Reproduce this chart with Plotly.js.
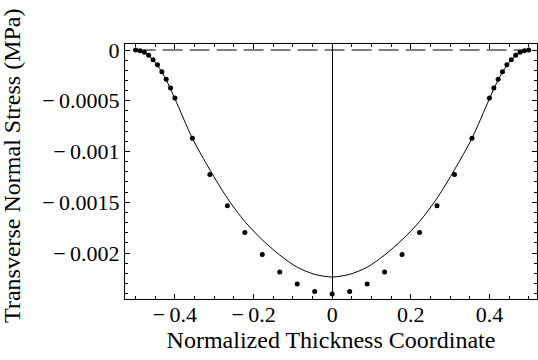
<!DOCTYPE html>
<html>
<head>
<meta charset="utf-8">
<script src="https://cdn.plot.ly/plotly-3.0.1.min.js"></script>
<style>html,body{margin:0;padding:0;background:#fff;}#chart{width:538px;height:360px;}</style>
</head>
<body>
<div id="chart"></div>
<script>
// Sampled stress (dots)
const dotX = [-0.5,-0.4889,-0.4778,-0.4667,-0.4556,-0.4444,-0.4333,-0.4222,-0.4111,-0.4,-0.3556,-0.3111,-0.2667,-0.2222,-0.1778,-0.1333,-0.0889,-0.0444,0,0.0444,0.0889,0.1333,0.1778,0.2222,0.2667,0.3111,0.3556,0.4,0.4111,0.4222,0.4333,0.4444,0.4556,0.4667,0.4778,0.4889,0.5];
const dotY = [0,-0.000007,-0.000023,-0.000052,-0.000095,-0.000145,-0.000214,-0.000289,-0.000375,-0.000473,-0.00087,-0.001226,-0.001535,-0.001798,-0.002015,-0.002186,-0.002305,-0.00238,-0.002403,-0.00238,-0.002305,-0.002186,-0.002015,-0.001798,-0.001535,-0.001226,-0.00087,-0.000473,-0.000375,-0.000289,-0.000214,-0.000145,-0.000095,-0.000052,-0.000023,-0.000007,0];
// Analytical solution (solid curve)
const curveX = [-0.5,-0.4889,-0.4667,-0.4444,-0.4222,-0.4,-0.3556,-0.3111,-0.2667,-0.2222,-0.1778,-0.1333,-0.0889,-0.0444,0,0.0444,0.0889,0.1333,0.1778,0.2222,0.2667,0.3111,0.3556,0.4,0.4222,0.4444,0.4667,0.4889,0.5];
const curveY = [0,-0.000007,-0.000052,-0.000150,-0.000295,-0.00048,-0.00087,-0.00118,-0.00146,-0.00169,-0.00187,-0.00202,-0.00214,-0.00221,-0.002236,-0.00221,-0.00214,-0.00202,-0.00187,-0.00169,-0.00146,-0.00118,-0.00087,-0.00048,-0.000295,-0.000150,-0.000052,-0.000007,0];
// Reference zero line (dashed)
const zeroX = [-0.5, 0.5];
const zeroY = [0, 0];

// Tick labels
const xTickVals = [-0.4, -0.2, 0, 0.2, 0.4];
const xTickText = ['\u2212\u20090.4', '\u2212\u20090.2', '0', '0.2', '0.4'];
const yTickVals = [0, -0.0005, -0.001, -0.0015, -0.002];
const yTickText = ['0', '\u2212\u20090.0005', '\u2212\u20090.001', '\u2212\u20090.0015', '\u2212\u20090.002'];

const xTitle = 'Normalized Thickness Coordinate';
const yTitle = 'Transverse Normal Stress (MPa)';

const font = '"Liberation Serif", "Times New Roman", serif';

const traces = [
  {x: zeroX, y: zeroY, mode: 'lines', line: {color: '#000', width: 1, dash: '20px,7px'}, hoverinfo: 'skip'},
  {x: curveX, y: curveY, mode: 'lines', line: {color: '#000', width: 1, shape: 'spline', smoothing: 0.8}},
  {x: dotX, y: dotY, mode: 'markers', marker: {color: '#000', size: 5}}
];

const layout = {
  width: 538, height: 360,
  margin: {l: 125, r: 1, t: 44, b: 61},
  paper_bgcolor: '#fff', plot_bgcolor: '#fff',
  showlegend: false,
  font: {family: font, size: 22, color: '#000'},
  xaxis: {
    range: [-0.527, 0.521],
    tickmode: 'array', tickvals: xTickVals, ticktext: xTickText,
    ticks: 'inside', ticklen: 5, tickwidth: 1, tickcolor: '#000',
    ticklabelstandoff: -4,
    minor: {tickmode: 'linear', tick0: 0, dtick: 0.05, ticks: 'inside', ticklen: 3, tickcolor: '#000', showgrid: false},
    showline: true, linecolor: '#000', linewidth: 1, mirror: 'ticks',
    showgrid: false,
    zeroline: true, zerolinecolor: '#000', zerolinewidth: 1,
    tickfont: {family: font, size: 22, color: '#000'},
    title: {text: xTitle, font: {family: font, size: 24}, standoff: 2}
  },
  yaxis: {
    range: [-0.002453, 0.0000591],
    tickmode: 'array', tickvals: yTickVals, ticktext: yTickText,
    ticks: 'inside', ticklen: 5, tickwidth: 1, tickcolor: '#000',
    minor: {tickmode: 'linear', tick0: 0, dtick: 0.0001, ticks: 'inside', ticklen: 3, tickcolor: '#000', showgrid: false},
    showline: true, linecolor: '#000', linewidth: 1, mirror: 'ticks',
    showgrid: false, zeroline: false,
    tickfont: {family: font, size: 22, color: '#000'}
  },
  annotations: [{
    text: yTitle, textangle: -90, showarrow: false,
    xref: 'paper', yref: 'paper', x: -0.273, y: 0.52,
    xanchor: 'center', yanchor: 'middle',
    font: {family: font, size: 24, color: '#000'}
  }]
};

Plotly.newPlot('chart', traces, layout, {staticPlot: true, displayModeBar: false});
</script>
</body>
</html>
